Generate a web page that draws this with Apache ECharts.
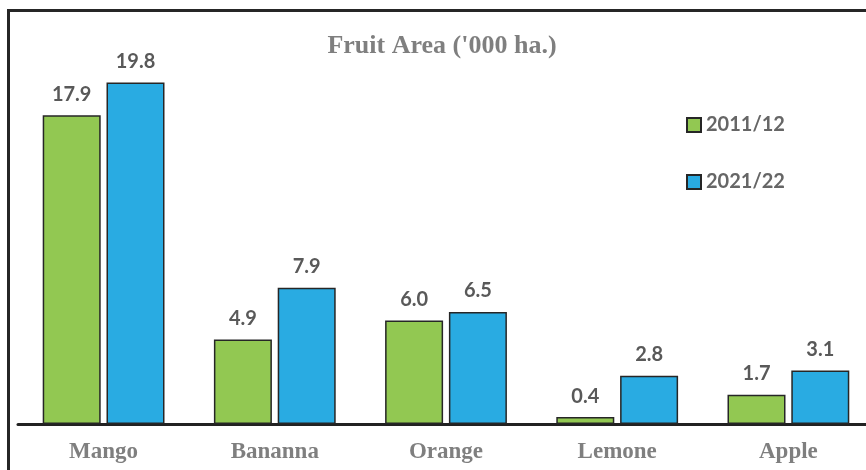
<!DOCTYPE html>
<html>
<head>
<meta charset="utf-8">
<script src="https://cdn.jsdelivr.net/npm/echarts@6/dist/echarts.min.js"></script>
<style>
  html, body { margin: 0; padding: 0; background: #fff; }
  #chart { width: 866px; height: 470px; }
</style>
</head>
<body>
<div id="chart"></div>
<script>
var categories = ["Mango", "Bananna", "Orange", "Lemone", "Apple"];
var seriesNames = ["2011/12", "2021/22"];
var values2011 = [17.9, 4.9, 6.0, 0.4, 1.7];
var values2021 = [19.8, 7.9, 6.5, 2.8, 3.1];

var MyEcharts = echarts.init(document.getElementById("chart"));
var labelStyle = {
  show: true,
  position: "top",
  distance: 11,
  color: "#595959",
  fontFamily: "Lato",
  fontWeight: "bold",
  fontSize: 20,
  formatter: function (p) { return p.value.toFixed(1); }
};
var option = {
  animation: false,
  title: {
    text: "Fruit Area ('000 ha.)",
    left: 437,
    textAlign: "center",
    top: 28,
    textStyle: {
      color: "#7f7f7f",
      fontFamily: "Liberation Serif",
      fontWeight: "bold",
      fontSize: 26
    }
  },
  legend: {
    orient: "vertical",
    left: 681,
    top: 110,
    itemWidth: 14,
    itemHeight: 14,
    itemGap: 37,
    icon: "rect",
    textStyle: {
      color: "#666666",
      fontFamily: "Lato",
      fontWeight: "bold",
      fontSize: 20,
      padding: [0, 0, 0, 0]
    }
  },
  graphic: [
    {
      type: "rect",
      left: 6,
      top: 8,
      shape: { width: 900, height: 500 },
      style: { fill: "none", stroke: "#262626", lineWidth: 3 },
      silent: true
    }
  ],
  grid: { left: 18, top: 79, width: 856, bottom: 46, outerBoundsMode: "none", containLabel: false },
  xAxis: {
    type: "category",
    data: categories,
    axisTick: { show: false },
    axisLine: { lineStyle: { color: "#222", width: 3 } },
    axisLabel: {
      margin: 17,
      color: "#7f7f7f",
      fontFamily: "Liberation Serif",
      fontWeight: "bold",
      fontSize: 23
    }
  },
  yAxis: {
    type: "value",
    min: 0,
    max: 20,
    show: false,
    splitLine: { show: false }
  },
  series: [
    {
      name: seriesNames[0],
      type: "bar",
      data: values2011,
      barWidth: 58,
      barGap: "10%",
      itemStyle: { color: "#92C852", borderColor: "#262626", borderWidth: 1.5 },
      label: labelStyle
    },
    {
      name: seriesNames[1],
      type: "bar",
      data: values2021,
      barWidth: 58,
      itemStyle: { color: "#29ABE2", borderColor: "#262626", borderWidth: 1.5 },
      label: labelStyle
    }
  ]
};
MyEcharts.setOption(option);
</script>
</body>
</html>
